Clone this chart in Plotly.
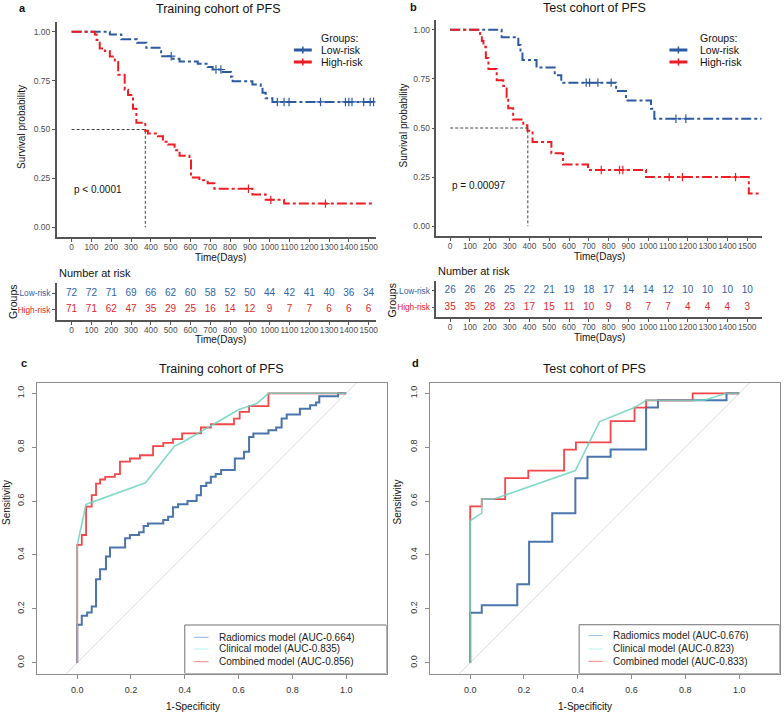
import numpy as np
import plotly.graph_objects as go

W, H = 784, 713
FONT = "Liberation Sans, Arial, sans-serif"
BLUE = "#2C5AA0"
RED = "#EE1D23"
TBLUE = "#2F63A8"
TRED = "#E3262C"

# ---- Kaplan-Meier, training cohort (days, survival) ----
tr_low_t = [0, 193, 251, 330, 377, 452, 511, 545, 637, 687, 712, 763, 805, 813,
            913, 955, 964, 980, 1014, 1530]
tr_low_s = [1.0, 0.986, 0.962, 0.944, 0.918, 0.875, 0.862, 0.848, 0.836, 0.820,
            0.807, 0.794, 0.770, 0.747, 0.730, 0.708, 0.688, 0.660, 0.641, 0.641]
tr_low_cens = [503, 729, 754, 1039, 1073, 1098, 1257, 1383, 1400, 1416, 1475, 1508, 1525]

tr_high_t = [0, 117, 126, 142, 168, 193, 218, 235, 268, 285, 310, 327, 372, 385,
             436, 461, 486, 520, 545, 595, 603, 645, 687, 721, 913, 980, 1073, 1525]
tr_high_s = [1.0, 0.986, 0.958, 0.915, 0.901, 0.873, 0.845, 0.780, 0.704, 0.676,
             0.606, 0.535, 0.493, 0.479, 0.465, 0.437, 0.423, 0.394, 0.366, 0.352,
             0.254, 0.240, 0.225, 0.197, 0.168, 0.140, 0.121, 0.121]
tr_high_cens = [893, 1006, 1282]
tr_median = 372

# ---- Kaplan-Meier, test cohort ----
te_low_t = [0, 260, 344, 355, 365, 436, 528, 561, 838, 888, 1014, 1031, 1572]
te_low_s = [1.0, 0.962, 0.923, 0.885, 0.846, 0.808, 0.769, 0.731, 0.688, 0.640,
            0.598, 0.547, 0.547]
te_low_cens = [687, 704, 746, 813, 1140, 1190]

te_high_t = [0, 151, 160, 168, 180, 193, 235, 268, 285, 293, 318, 369, 390, 416,
             511, 570, 696, 989, 1508, 1572]
te_high_s = [1.0, 0.971, 0.943, 0.914, 0.857, 0.800, 0.743, 0.714, 0.657, 0.600,
             0.543, 0.514, 0.486, 0.429, 0.371, 0.314, 0.286, 0.250, 0.167, 0.167]
te_high_cens = [763, 855, 872, 1106, 1173, 1441]
te_median = 392

# ---- number at risk ----
risk_times = [0, 100, 200, 300, 400, 500, 600, 700, 800, 900, 1000, 1100, 1200, 1300, 1400, 1500]
tr_low_n = [72, 72, 71, 69, 66, 62, 60, 58, 52, 50, 44, 42, 41, 40, 36, 34]
tr_high_n = [71, 71, 62, 47, 35, 29, 25, 16, 14, 12, 9, 7, 7, 6, 6, 6]
te_low_n = [26, 26, 26, 25, 22, 21, 19, 18, 17, 14, 14, 12, 10, 10, 10, 10]
te_high_n = [35, 35, 28, 23, 17, 15, 11, 10, 9, 8, 7, 7, 4, 4, 4, 3]

# ---- ROC, training cohort (1-specificity, sensitivity) ----
tr_rad_fpr = [0, 0, 0.017, 0.037, 0.054, 0.07, 0.085, 0.107, 0.122, 0.178, 0.196, 0.23,
              0.247, 0.263, 0.32, 0.338, 0.356, 0.375, 0.41, 0.444, 0.46, 0.48, 0.497,
              0.515, 0.535, 0.586, 0.62, 0.639, 0.655, 0.711, 0.74, 0.76, 0.779, 0.828,
              0.866, 0.888, 0.9, 0.97, 1.0]
tr_rad_tpr = [0, 0.141, 0.174, 0.186, 0.209, 0.31, 0.347, 0.394, 0.428, 0.462, 0.474,
              0.484, 0.507, 0.517, 0.53, 0.542, 0.577, 0.588, 0.6, 0.622, 0.656, 0.668,
              0.69, 0.70, 0.715, 0.758, 0.783, 0.838, 0.851, 0.863, 0.873, 0.906, 0.921,
              0.943, 0.956, 0.966, 0.989, 1.0, 1.0]
tr_cli_fpr = [0, 0, 0.033, 0.056, 0.254, 0.362, 0.395, 0.601, 0.668, 0.711, 1.0]
tr_cli_tpr = [0, 0.437, 0.588, 0.596, 0.668, 0.804, 0.82, 0.94, 0.962, 1.0, 1.0]
tr_com_fpr = [0, 0, 0.017, 0.033, 0.054, 0.07, 0.085, 0.104, 0.14, 0.159, 0.196, 0.233,
              0.282, 0.32, 0.356, 0.39, 0.46, 0.497, 0.583, 0.604, 0.639, 0.711, 1.0]
tr_com_tpr = [0, 0.437, 0.474, 0.579, 0.622, 0.665, 0.68, 0.69, 0.70, 0.746, 0.758, 0.77,
              0.804, 0.816, 0.83, 0.851, 0.873, 0.885, 0.906, 0.931, 0.952, 1.0, 1.0]

# ---- ROC, test cohort ----
te_rad_fpr = [0, 0, 0.043, 0.175, 0.219, 0.305, 0.391, 0.436, 0.522, 0.654, 0.698, 0.953, 1.0]
te_rad_tpr = [0, 0.185, 0.213, 0.291, 0.449, 0.555, 0.685, 0.764, 0.791, 0.947, 0.974, 1.0, 1.0]
te_cli_fpr = [0, 0, 0.043, 0.043, 0.086, 0.391, 0.481, 0.611, 0.654, 0.87, 0.953, 1.0]
te_cli_tpr = [0, 0.527, 0.555, 0.607, 0.607, 0.713, 0.895, 0.947, 0.974, 0.974, 1.0, 1.0]
te_com_fpr = [0, 0, 0.043, 0.13, 0.216, 0.349, 0.393, 0.522, 0.611, 0.654, 0.827, 1.0]
te_com_tpr = [0, 0.58, 0.607, 0.685, 0.713, 0.791, 0.818, 0.897, 0.947, 0.974, 1.0, 1.0]

roc_labels_tr = ["Radiomics model (AUC-0.664)", "Clinical model (AUC-0.835)", "Combined model (AUC-0.856)"]
roc_labels_te = ["Radiomics model (AUC-0.676)", "Clinical model (AUC-0.823)", "Combined model (AUC-0.833)"]
chance = [-0.2, 1.2]

ROC_BLUE = "#2D5E9E"
ROC_TEAL = "#6ED2C0"
ROC_RED = "#F0282D"
LEG_COLORS = ["#9DC3E6", "#B4F2EF", "#F29B9B"]


def surv_at(times, surv, t):
    i = np.searchsorted(times, t, side="right") - 1
    return [surv[k] for k in i]


fig = go.Figure()

# KM curves
for xa, ya, t, s, cens, col in [
    ("x", "y", tr_low_t, tr_low_s, tr_low_cens, BLUE),
    ("x", "y", tr_high_t, tr_high_s, tr_high_cens, RED),
    ("x2", "y2", te_low_t, te_low_s, te_low_cens, BLUE),
    ("x2", "y2", te_high_t, te_high_s, te_high_cens, RED),
]:
    fig.add_trace(go.Scatter(x=t, y=s, xaxis=xa, yaxis=ya, mode="lines",
                             line=dict(color=col, width=2, shape="hv", dash="10px,3px,3px,3px"),
                             showlegend=False, hoverinfo="skip"))
    fig.add_trace(go.Scatter(x=cens, y=surv_at(t, s, cens), xaxis=xa, yaxis=ya, mode="markers",
                             marker=dict(symbol="cross-thin", size=6, line=dict(color=col, width=1.2)),
                             showlegend=False, hoverinfo="skip"))

# median lines
for xa, ya, med in [("x", "y", tr_median), ("x2", "y2", te_median)]:
    fig.add_trace(go.Scatter(x=[0, med, med], y=[0.5, 0.5, 0], xaxis=xa, yaxis=ya, mode="lines",
                             line=dict(color="#444444", width=1, dash="3px,2px"),
                             showlegend=False, hoverinfo="skip"))

# risk tables
for xa, ya, low, high in [("x3", "y3", tr_low_n, tr_high_n), ("x4", "y4", te_low_n, te_high_n)]:
    fig.add_trace(go.Scatter(x=risk_times, y=[2] * len(risk_times), xaxis=xa, yaxis=ya, mode="text",
                             text=[str(v) for v in low], textfont=dict(size=10, color=TBLUE, family=FONT),
                             showlegend=False, hoverinfo="skip", cliponaxis=False))
    fig.add_trace(go.Scatter(x=risk_times, y=[1] * len(risk_times), xaxis=xa, yaxis=ya, mode="text",
                             text=[str(v) for v in high], textfont=dict(size=10, color=TRED, family=FONT),
                             showlegend=False, hoverinfo="skip", cliponaxis=False))

# ROC curves: radiomics, combined, clinical
for xa, ya, curves in [
    ("x5", "y5", [(tr_rad_fpr, tr_rad_tpr, ROC_BLUE, "hv", 2), (tr_com_fpr, tr_com_tpr, ROC_RED, "hv", 1.8),
                  (tr_cli_fpr, tr_cli_tpr, ROC_TEAL, "linear", 1.6)]),
    ("x6", "y6", [(te_rad_fpr, te_rad_tpr, ROC_BLUE, "hv", 2), (te_com_fpr, te_com_tpr, ROC_RED, "hv", 1.8),
                  (te_cli_fpr, te_cli_tpr, ROC_TEAL, "linear", 1.6)]),
]:
    fig.add_trace(go.Scatter(x=chance, y=chance, xaxis=xa, yaxis=ya, mode="lines",
                             line=dict(color="#D9D9D9", width=1), showlegend=False, hoverinfo="skip"))
    for fx, ty, col, shp, lw in curves:
        fig.add_trace(go.Scatter(x=fx, y=ty, xaxis=xa, yaxis=ya, mode="lines", opacity=0.85,
                                 line=dict(color=col, width=lw, shape=shp),
                                 showlegend=False, hoverinfo="skip"))


def dom_x(a, b):
    return [a / W, b / W]


def dom_y(top, bottom):
    return [1 - bottom / H, 1 - top / H]


km_axis = dict(showline=True, linecolor="#555555", linewidth=1.5, ticks="outside", ticklen=3,
               tickcolor="#555555", showgrid=False, zeroline=False, tickangle=0,
               tickfont=dict(size=8.3, color="#4D4D4D", family=FONT))
km_x = dict(km_axis, ticklabelstandoff=-2)
roc_axis = dict(showline=True, linecolor="#8C8C8C", linewidth=1, mirror=True, ticks="outside", ticklen=4,
                tickcolor="#8C8C8C", showgrid=False, zeroline=False,
                tickfont=dict(size=9, color="#333333", family=FONT))
time_ticks = dict(tickvals=risk_times, ticktext=[str(v) for v in risk_times])
surv_ticks = dict(tickvals=[0, 0.25, 0.5, 0.75, 1], ticktext=["0.00", "0.25", "0.50", "0.75", "1.00"])
roc_ticks = dict(tickvals=[0, 0.2, 0.4, 0.6, 0.8, 1.0], ticktext=["0.0", "0.2", "0.4", "0.6", "0.8", "1.0"])
grp_ticks = dict(tickvals=[2, 1], ticktext=['<span style="color:%s">Low-risk</span>' % TBLUE,
                                            '<span style="color:%s">High-risk</span>' % TRED])

fig.update_layout(
    xaxis=dict(domain=dom_x(57, 377), range=[-75, 1535], anchor="y", **time_ticks, **km_x),
    yaxis=dict(domain=dom_y(22, 237), range=[-0.05, 1.05], anchor="x", **surv_ticks,
               **{**km_axis, "tickfont": dict(size=8.5, color="#4D4D4D", family=FONT)}),
    xaxis2=dict(domain=dom_x(438, 765), range=[-70, 1575], anchor="y2", **time_ticks, **km_x),
    yaxis2=dict(domain=dom_y(20, 236), range=[-0.05, 1.05], anchor="x2", **surv_ticks,
                **{**km_axis, "tickfont": dict(size=8.5, color="#4D4D4D", family=FONT)}),
    xaxis3=dict(domain=dom_x(57, 377), range=[-75, 1535], anchor="y3", **time_ticks, **km_x),
    yaxis3=dict(domain=dom_y(283, 320), range=[0.4, 2.6], anchor="x3", **grp_ticks,
                **{**km_axis, "tickfont": dict(size=8.3, family=FONT)}),
    xaxis4=dict(domain=dom_x(438, 765), range=[-70, 1575], anchor="y4", **time_ticks, **km_x),
    yaxis4=dict(domain=dom_y(281, 317), range=[0.4, 2.6], anchor="x4", **grp_ticks,
                **{**km_axis, "tickfont": dict(size=8.3, family=FONT)}),
    xaxis5=dict(domain=dom_x(37, 388), range=[-0.15, 1.15], anchor="y5", ticklabelstandoff=4,
                **roc_ticks, **roc_axis),
    yaxis5=dict(domain=dom_y(382.5, 673.5), range=[-0.04, 1.04], anchor="x5", tickangle=-90,
                ticklabelstandoff=4, **roc_ticks, **roc_axis),
    xaxis6=dict(domain=dom_x(431.5, 782.5), range=[-0.15, 1.15], anchor="y6", ticklabelstandoff=4,
                **roc_ticks, **roc_axis),
    yaxis6=dict(domain=dom_y(382.5, 673.5), range=[-0.04, 1.04], anchor="x6", tickangle=-90,
                ticklabelstandoff=4, **roc_ticks, **roc_axis),
)

annotations = []


def label(text, x, y, size=10, color="#111111", angle=0, anchor="center", bold=False):
    if bold:
        text = "<b>%s</b>" % text
    annotations.append(dict(text=text, x=x / W, y=1 - y / H, xref="paper", yref="paper",
                            showarrow=False, textangle=angle, xanchor=anchor, yanchor="middle",
                            font=dict(size=size, color=color, family=FONT)))


# panel letters and titles
label("a", 23, 8, 11, bold=True)
label("b", 415, 7, 11, bold=True)
label("c", 24, 363, 11, bold=True)
label("d", 417, 363, 11, bold=True)
label("Training cohort of PFS", 219, 9, 12.5)
label("Test cohort of PFS", 597, 8, 12.5)
label("Training cohort of PFS", 222, 369, 12.5)
label("Test cohort of PFS", 597, 369, 12.5)

# KM axis titles
label("Survival probability", 22, 127, 10, angle=-90)
label("Survival probability", 405, 125, 10, angle=-90)
label("Time(Days)", 221, 257, 10)
label("Time(Days)", 602, 256, 10)
label("Number at risk", 57, 273, 11, anchor="left")
label("Number at risk", 438, 271, 11, anchor="left")
label("Groups", 13, 302, 10.5, angle=-90)
label("Groups", 394, 300, 10.5, angle=-90)
label("Time(Days)", 221, 339, 10)
label("Time(Days)", 602, 337, 10)

# KM legends
for lx in [320, 701]:
    label("Groups:", lx, 38, 10.5, anchor="left")
    label("Low-risk", lx, 50, 10.5, anchor="left")
    label("High-risk", lx, 62, 10.5, anchor="left")

# ROC axis titles
label("Sensitivity", 6, 502, 10, angle=-90)
label("Sensitivity", 399, 502, 10, angle=-90)
label("1-Specificity", 194, 706, 10)
label("1-Specificity", 587, 706, 10)

# p values in data coordinates
annotations.append(dict(text="p < 0.0001", x=0, y=0.194, xref="x", yref="y", showarrow=False,
                        xanchor="left", font=dict(size=10, color="#111111", family=FONT)))
annotations.append(dict(text="p = 0.00097", x=0, y=0.205, xref="x2", yref="y2", showarrow=False,
                        xanchor="left", font=dict(size=10, color="#111111", family=FONT)))

shapes = []
# KM legend swatches
for sx in [295, 672]:
    for yy, col in [(50, BLUE), (62, RED)]:
        shapes.append(dict(type="line", xref="paper", yref="paper", x0=sx / W, x1=(sx + 18) / W,
                           y0=1 - yy / H, y1=1 - yy / H, line=dict(color=col, width=3)))
        shapes.append(dict(type="line", xref="paper", yref="paper", x0=(sx + 9) / W, x1=(sx + 9) / W,
                           y0=1 - (yy - 3.5) / H, y1=1 - (yy + 3.5) / H, line=dict(color=col, width=1.5)))

# ROC legends (axis coordinates)
for xa, ya, x0, top, rows, labs in [
    ("x5", "y5", 0.40, 0.14, [0.094, 0.051, 0.004], roc_labels_tr),
    ("x6", "y6", 0.405, 0.141, [0.101, 0.051, 0.005], roc_labels_te),
]:
    shapes.append(dict(type="rect", xref=xa, yref=ya, x0=x0, x1=1.15, y0=-0.04, y1=top,
                       line=dict(color="#707070", width=1), fillcolor="rgba(0,0,0,0)"))
    for yy, col, lab in zip(rows, LEG_COLORS, labs):
        shapes.append(dict(type="line", xref=xa, yref=ya, x0=x0 + 0.035, x1=x0 + 0.088, y0=yy, y1=yy,
                           line=dict(color=col, width=1.2)))
        annotations.append(dict(text=lab, x=x0 + 0.118, y=yy, xref=xa, yref=ya, showarrow=False,
                                xanchor="left", yanchor="middle",
                                font=dict(size=10, color="#222222", family=FONT)))

fig.update_layout(
    width=W, height=H, margin=dict(l=0, r=0, t=0, b=0),
    paper_bgcolor="white", plot_bgcolor="white",
    font=dict(family=FONT), showlegend=False,
    annotations=annotations, shapes=shapes,
)

# the page body has an 8px default margin; drop it so the figure sits at the window origin
fig.write_html("out.html", config={"displayModeBar": False},
               post_script="document.body.style.margin='0';")
